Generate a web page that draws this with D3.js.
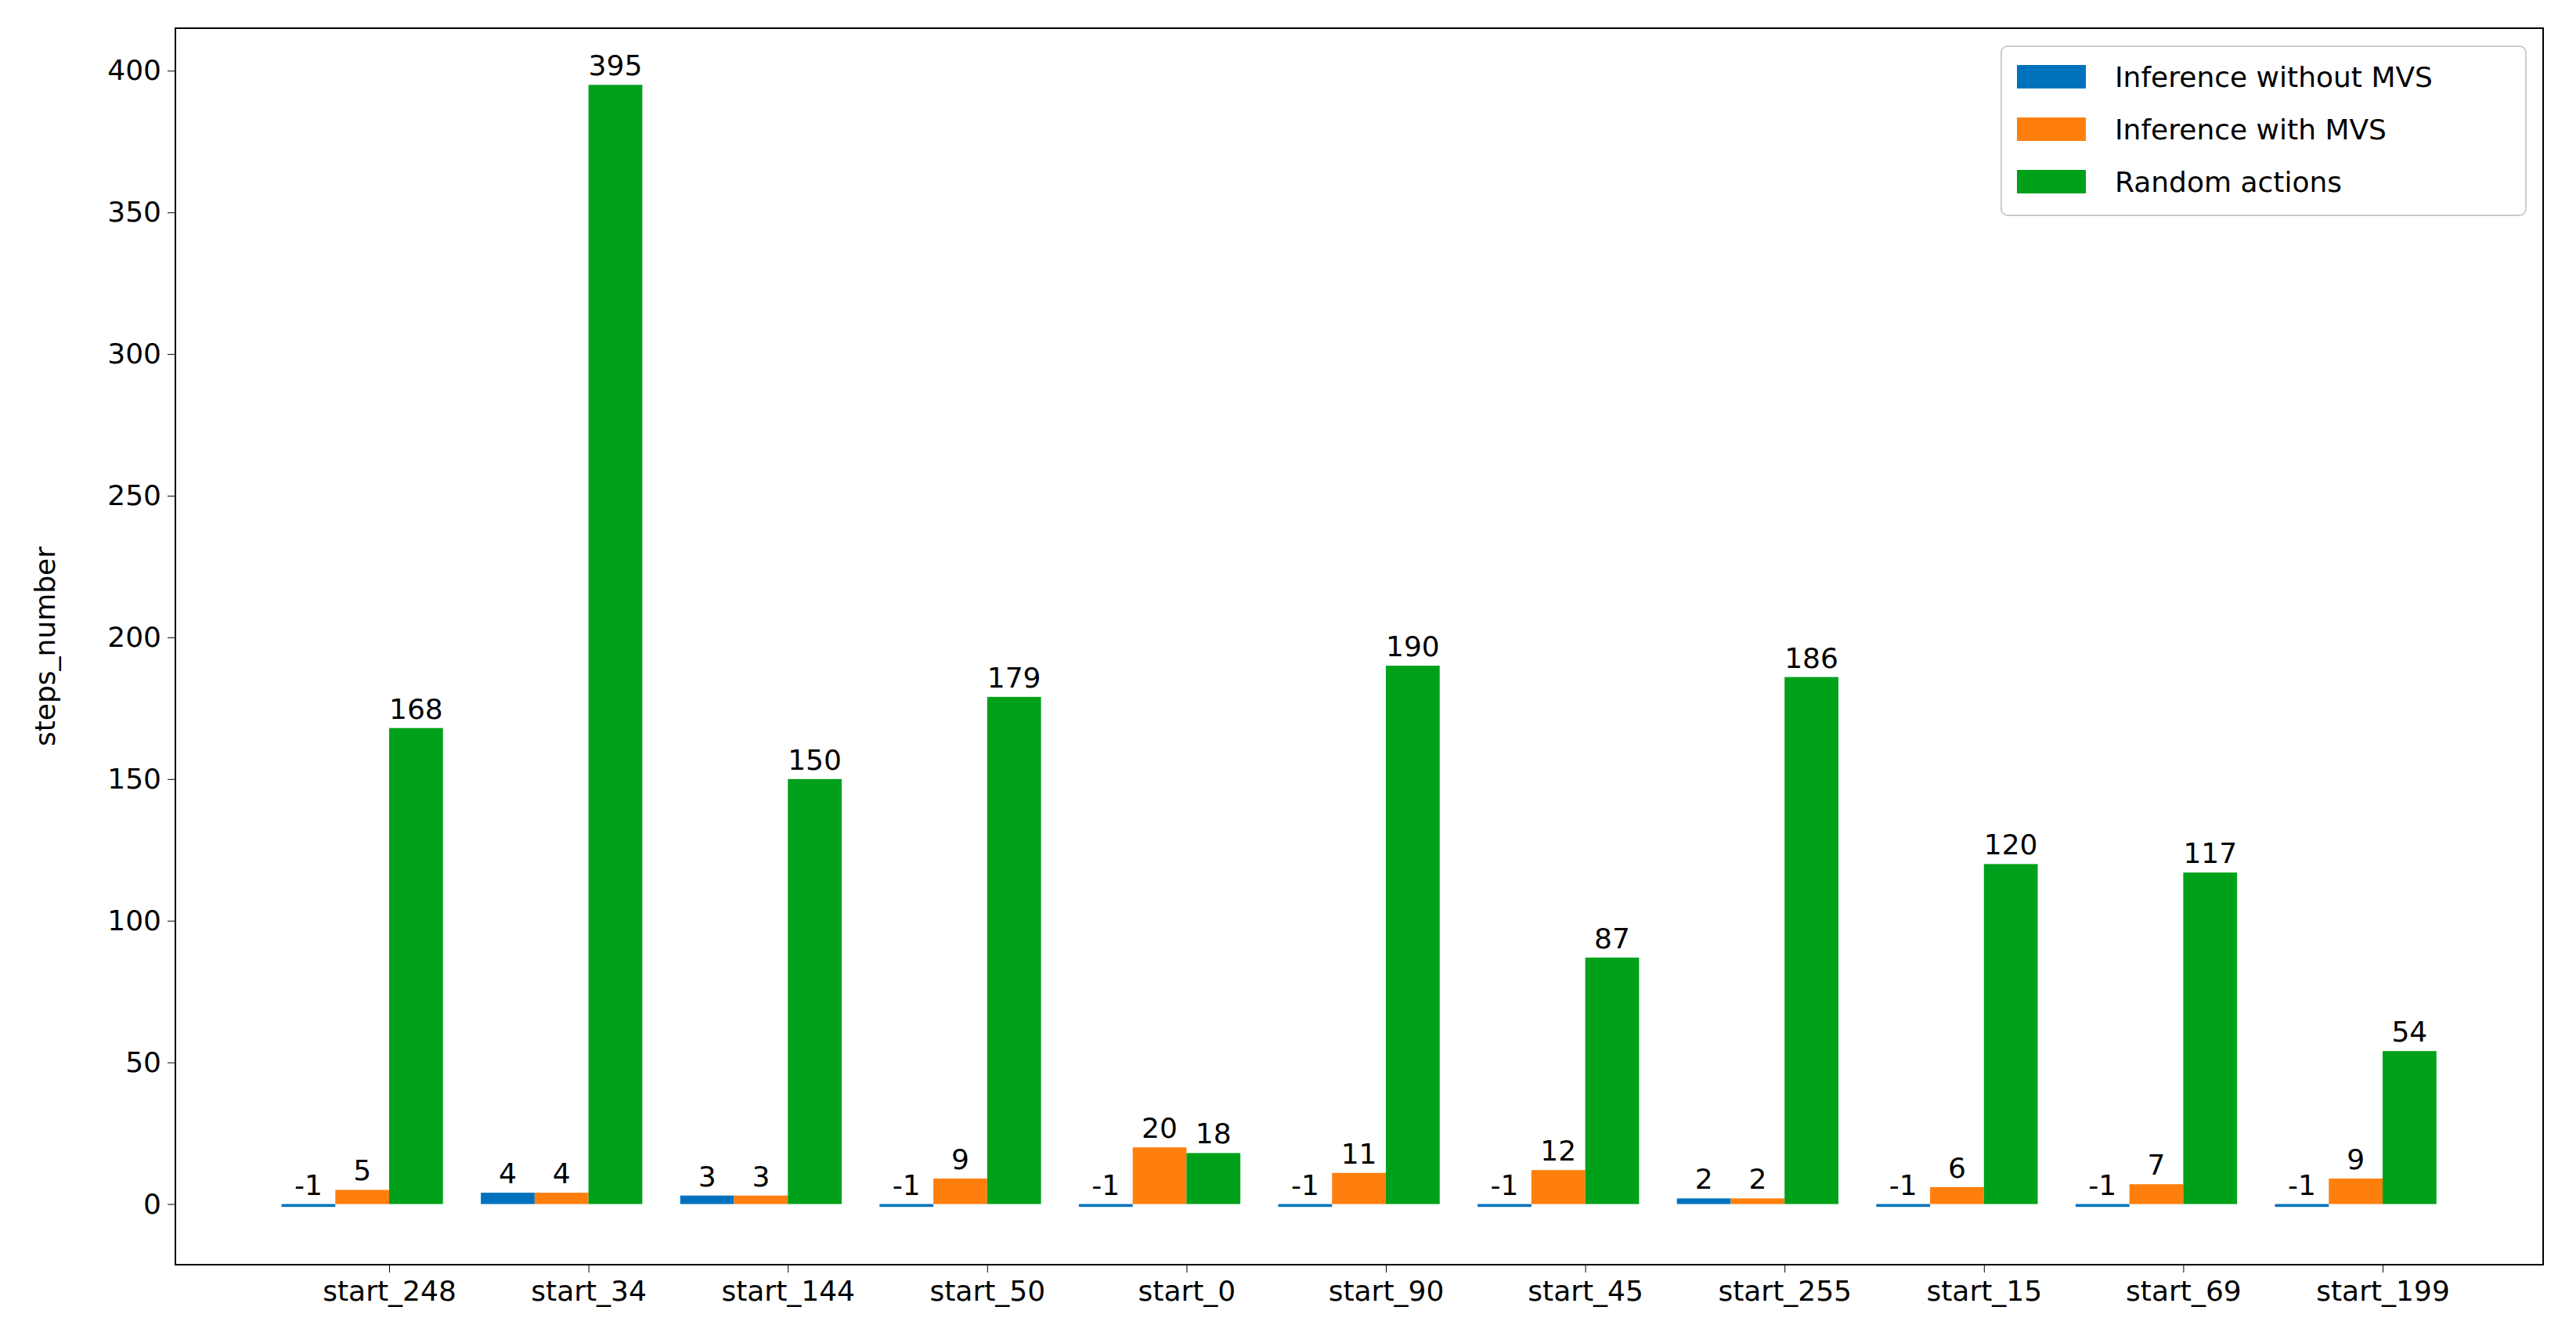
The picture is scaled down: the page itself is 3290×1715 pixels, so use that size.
<!DOCTYPE html><html><head><meta charset="utf-8"><script src="https://cdn.jsdelivr.net/npm/d3@7"></script>
<style>body{margin:0;background:#fff}</style></head><body><svg id="c" width="3290" height="1715"></svg>
<script>
const categories=["start_248","start_34","start_144","start_50","start_0","start_90","start_45","start_255","start_15","start_69","start_199"];
const withoutMVS=[-1,4,3,-1,-1,-1,-1,2,-1,-1,-1];
const withMVS=[5,4,3,9,20,11,12,2,6,7,9];
const randomActions=[168,395,150,179,18,190,87,186,120,117,54];
const seriesNames=["Inference without MVS","Inference with MVS","Random actions"];
const colors=["#0072bd","#ff7f0e","#00a11a"];
const yTicks=[0,50,100,150,200,250,300,350,400];

const svg=d3.select("#c"),L=224,R=3248,T=36,B=1615;
const fs=36,font="DejaVu Sans";
const y=d3.scaleLinear().domain([-21.4,415]).range([B,T]);
const x=d3.scalePoint().domain(categories).range([497,3043]);
const w=254.6*0.27;
const series=[withoutMVS,withMVS,randomActions];
const offs=[-2,-1,0];
series.forEach((vals,si)=>{
  const g=svg.append("g");
  g.selectAll("rect").data(vals).join("rect")
   .attr("x",(d,i)=>x(categories[i])+offs[si]*w).attr("width",w)
   .attr("y",d=>y(Math.max(0,d))).attr("height",d=>Math.abs(y(d)-y(0)))
   .attr("fill",colors[si]);
  g.selectAll("text").data(vals).join("text")
   .attr("x",(d,i)=>x(categories[i])+offs[si]*w+w/2)
   .attr("y",d=>y(Math.max(0,d))-12)
   .attr("text-anchor","middle").attr("font-family",font).attr("font-size",fs).text(d=>d);
});
const ya=svg.append("g").attr("transform",`translate(${L},0)`).call(d3.axisLeft(y).tickValues(yTicks).tickSize(10).tickPadding(8));
ya.selectAll("text").attr("font-family",font).attr("font-size",fs).attr("fill","#000");
ya.select(".domain").remove();
const xa=svg.append("g").attr("transform",`translate(0,${B})`).call(d3.axisBottom(x).tickSize(10).tickPadding(10));
xa.selectAll("text").attr("font-family",font).attr("font-size",fs).attr("fill","#000");
xa.select(".domain").remove();
svg.append("rect").attr("x",L).attr("y",T).attr("width",R-L).attr("height",B-T).attr("fill","none").attr("stroke","#000").attr("stroke-width",2);
svg.append("text").attr("transform",`translate(70,${(T+B)/2}) rotate(-90)`).attr("text-anchor","middle")
 .attr("font-family",font).attr("font-size",fs).text("steps_number");
const lg=svg.append("g").attr("transform","translate(2556,59)");
lg.append("rect").attr("width",670).attr("height",216).attr("rx",8).attr("fill","#fff").attr("stroke","#ccc").attr("stroke-width",2);
seriesNames.forEach((n,i)=>{
  lg.append("rect").attr("x",20).attr("y",24+i*67).attr("width",88).attr("height",30).attr("fill",colors[i]);
  lg.append("text").attr("x",145).attr("y",52+i*67).attr("font-family",font).attr("font-size",fs).text(n);
});
</script></body></html>
